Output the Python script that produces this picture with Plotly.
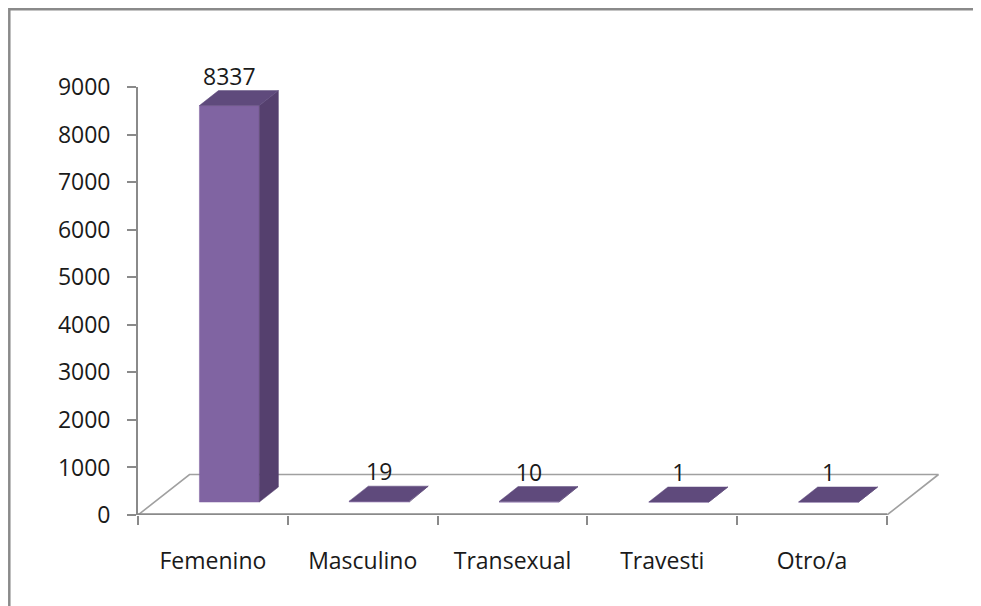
import plotly.graph_objects as go

# ---- data ----
categories = ["Femenino", "Masculino", "Transexual", "Travesti", "Otro/a"]
values = [8337, 19, 10, 1, 1]
y_tick_values = [0, 1000, 2000, 3000, 4000, 5000, 6000, 7000, 8000, 9000]
y_tick_labels = ["0", "1000", "2000", "3000", "4000", "5000", "6000", "7000", "8000", "9000"]

# ---- style ----
FRONT = "#8064A2"
TOP = "#5F4A7C"
SIDE = "#55406E"
AXIS = "#8A8A8A"
FLOOR = "#A0A0A0"
FONT = dict(family="Open Sans, DejaVu Sans, sans-serif", size=23, color="#1a1a1a")

# page body has an 8px margin: figure starts at (8, 8) in the window
W, H = 973, 598
ML, MR, MT, MB = 130, 36, 79, 91
plot_w = W - ML - MR
plot_h = H - MT - MB
n = len(categories)
x_lo = -0.5
cat_px = (879 - ML) / n          # pixels per category slot
x_hi = x_lo + plot_w / cat_px
y_lo, y_hi = 0, 9000

# 3D depth of the floor, expressed in axis units
depth_dx = 51.5 / cat_px
depth_dy = 40.5 / (plot_h / (y_hi - y_lo))
f0, f1 = 0.32, 0.69     # bar front/back as fraction of floor depth
hw = 0.2                # half bar width (category units)

fig = go.Figure()

# floor (back and side edges)
fig.add_trace(go.Scatter(
    x=[x_lo + n, x_lo + n + depth_dx, x_lo + depth_dx, x_lo],
    y=[0, depth_dy, depth_dy, 0],
    mode="lines", line=dict(color=FLOOR, width=1.6), hoverinfo="skip", showlegend=False))
# floor front edge (sits on the plot bottom)
fig.add_trace(go.Scatter(
    x=[x_lo, x_lo + n], y=[0, 0],
    mode="lines", line=dict(color=AXIS, width=3.4), hoverinfo="skip", showlegend=False))

label_x, label_y = [], []
for i, v in enumerate(values):
    xl0 = i - hw + f0 * depth_dx
    xr0 = i + hw + f0 * depth_dx
    xl1 = i - hw + f1 * depth_dx
    xr1 = i + hw + f1 * depth_dx
    yb0 = f0 * depth_dy
    yb1 = f1 * depth_dy
    # front face
    fig.add_trace(go.Scatter(
        x=[xl0, xr0, xr0, xl0, xl0], y=[yb0, yb0, yb0 + v, yb0 + v, yb0],
        fill="toself", fillcolor=FRONT, mode="lines", line=dict(color=FRONT, width=0.5),
        hoverinfo="skip", showlegend=False))
    # side face
    fig.add_trace(go.Scatter(
        x=[xr0, xr1, xr1, xr0, xr0], y=[yb0, yb1, yb1 + v, yb0 + v, yb0],
        fill="toself", fillcolor=SIDE, mode="lines", line=dict(color=SIDE, width=0.5),
        hoverinfo="skip", showlegend=False))
    # top face
    fig.add_trace(go.Scatter(
        x=[xl0, xr0, xr1, xl1, xl0], y=[yb0 + v, yb0 + v, yb1 + v, yb1 + v, yb0 + v],
        fill="toself", fillcolor=TOP, mode="lines", line=dict(color=TOP, width=0.5),
        hoverinfo="skip", showlegend=False))
    label_x.append(i + f0 * depth_dx)
    label_y.append(yb1 + v)

# value labels
fig.add_trace(go.Scatter(
    x=label_x, y=label_y, mode="text", text=[str(v) for v in values],
    textposition="top center", textfont=FONT, cliponaxis=False,
    hoverinfo="skip", showlegend=False))

# invisible trace for the category label axis
fig.add_trace(go.Scatter(
    x=list(range(n)), y=[None] * n, xaxis="x2", mode="markers",
    marker=dict(opacity=0), hoverinfo="skip", showlegend=False))

boundaries = [x_lo + k for k in range(n + 1)]

fig.update_layout(
    width=W, height=H,
    margin=dict(l=ML, r=MR, t=MT, b=MB),
    paper_bgcolor="white", plot_bgcolor="rgba(0,0,0,0)",
    font=FONT,
    xaxis=dict(range=[x_lo, x_hi], tickmode="array", tickvals=boundaries,
               ticktext=[""] * len(boundaries), ticks="outside", ticklen=9,
               tickcolor=AXIS, tickwidth=1.6, showgrid=False, zeroline=False,
               showline=False, fixedrange=True),
    xaxis2=dict(range=[x_lo, x_hi], overlaying="x", side="bottom", anchor="y",
                tickmode="array", tickvals=list(range(n)), ticktext=categories,
                ticks="", showgrid=False, zeroline=False, showline=False,
                ticklabelstandoff=30, tickfont=FONT),
    yaxis=dict(range=[y_lo, y_hi], tickmode="array", tickvals=y_tick_values,
               ticktext=y_tick_labels, ticks="outside", ticklen=9, tickcolor=AXIS,
               tickwidth=1.6, showline=True, linecolor=AXIS, linewidth=1.8,
               showgrid=False, zeroline=False, ticklabelstandoff=12, tickfont=FONT),
    shapes=[dict(type="rect", xref="paper", yref="paper",
                 x0=(1.3 - ML) / plot_w, x1=1.5,
                 y0=-1.0, y1=(H - MB - 1.3) / plot_h,
                 line=dict(color=AXIS, width=2.5), fillcolor="rgba(0,0,0,0)")],
)

fig.write_html("out.html")
